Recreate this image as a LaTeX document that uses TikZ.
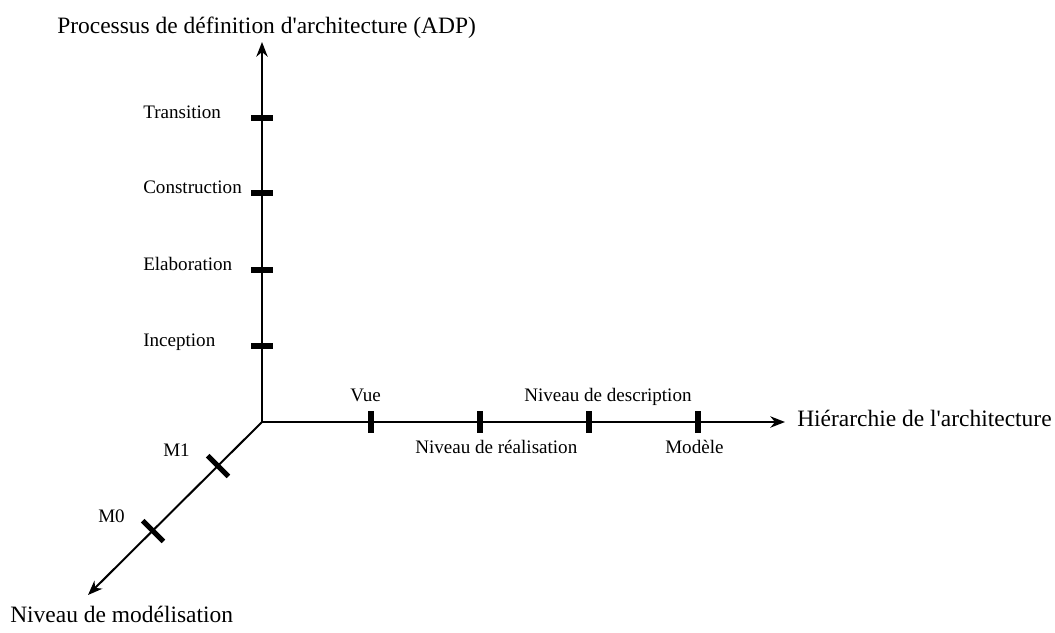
\documentclass[tikz,border=0pt]{standalone}
\usepackage{fontspec}
\setmainfont{Liberation Serif}
\usetikzlibrary{arrows.meta}

\begin{document}
\begin{tikzpicture}[x=0.75pt,y=-0.75pt]
\tikzstyle{every node}=[inner sep=0pt, font=\fontsize{14.3}{17}\selectfont]
\tikzstyle{titre}=[font=\fontsize{17.6}{21}\selectfont]
\tikzstyle{axe}=[line width=1.5pt, -{Stealth[length=11pt, width=8.5pt, inset=3.5pt]}]
\tikzstyle{barre}=[fill=black, minimum width=3.8pt, minimum height=16pt]
\tikzstyle{barreh}=[fill=black, minimum width=16pt, minimum height=3.8pt]
\tikzstyle{barred}=[barre, minimum height=22pt, rotate=45]
\useasboundingbox (0,0) rectangle (1055,632);
\coordinate (o) at (262,422);
\coordinate (adpfin) at (262,42);
\coordinate (hierfin) at (785,422);
\coordinate (modfin) at (88,595);
\node (adp) [titre, anchor=base west] at (57,33) {Processus de définition d\textquotesingle architecture (ADP)};
\node (hier) [titre, anchor=base west] at (797,426) {Hiérarchie de l\textquotesingle architecture};
\node (mod) [titre, anchor=base west] at (10,622) {Niveau de modélisation};
\draw[axe] (o) -- (adpfin);
\draw[axe] (o) -- (hierfin);
\draw[axe] (o) -- (modfin);
% ADP
\node (g1) [barreh] at (262,346) {};
\node (g2) [barreh] at (262,270) {};
\node (g3) [barreh] at (262,193) {};
\node (g4) [barreh] at (262,118) {};
\node (inception) [anchor=base west] at (143,346) {Inception};
\node (elaboration) [anchor=base west] at (143,270) {Elaboration};
\node (construction) [anchor=base west] at (143,193) {Construction};
\node (transition) [anchor=base west] at (143,118) {Transition};
% hierarchie
\node (h1) [barre] at (371,422) {};
\node (h2) [barre] at (480,422) {};
\node (h3) [barre] at (589,422) {};
\node (h4) [barre] at (698,422) {};
\node (vue) [anchor=base west] at (350,401) {Vue};
\node (realisation) [anchor=base west] at (415,453) {Niveau de réalisation};
\node (description) [anchor=base west] at (524,401) {Niveau de description};
\node (modele) [anchor=base west] at (665,453) {Modèle};
% modelisation
\node (m1) [barred] at (218,466) {};
\node (m0) [barred] at (153,531) {};
\node (labm1) [anchor=base west] at (163,456) {M1};
\node (labm0) [anchor=base west] at (98,522) {M0};
\end{tikzpicture}
\end{document}
